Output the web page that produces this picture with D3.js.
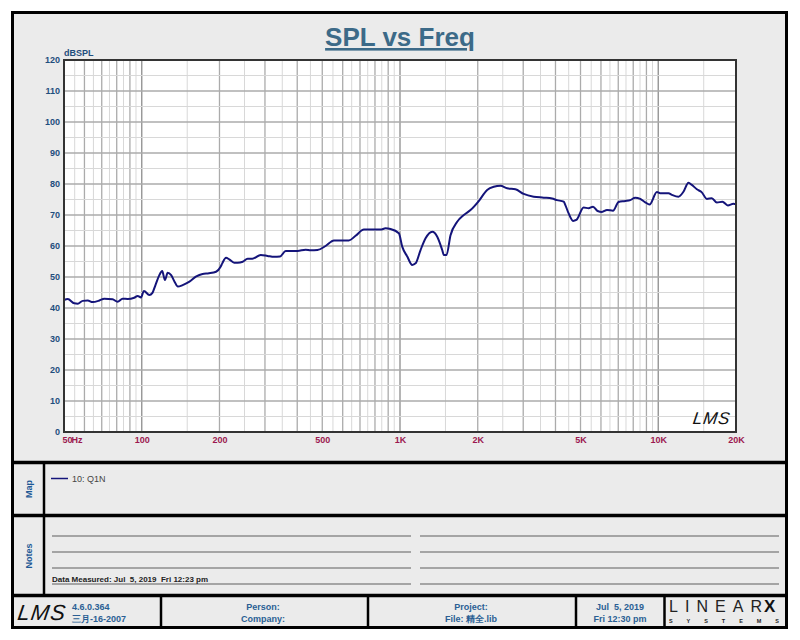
<!DOCTYPE html>
<html>
<head>
<meta charset="utf-8">
<script src="https://cdn.jsdelivr.net/npm/d3@7"></script>
<style>
  body { margin: 0; background: #fff; }
  text { font-family: "Liberation Sans", Arial, sans-serif; }
</style>
</head>
<body>
<div id="container"></div>
<script>
var freq = [50, 51.7, 54.8, 56.5, 59.1, 61.8, 64.5, 68.5, 71.6, 77.1,
  80.6, 84.3, 88.2, 93.5, 96.4, 99.3, 102, 107, 110, 113,
  117, 120, 123, 126, 130, 134, 138, 144, 153, 162,
  172, 182, 194, 202, 205, 212, 218, 228, 235, 246,
  257, 268, 289, 307, 325, 343, 361, 401, 431, 451,
  479, 515, 555, 634, 673, 725, 841, 879, 919, 990,
  1020, 1067, 1115, 1149, 1201, 1256, 1333, 1394, 1457, 1478,
  1514, 1569, 1665, 1766, 1875, 2018, 2175, 2307, 2449, 2599,
  2798, 3013, 3294, 3601, 3880, 4057, 4303, 4368, 4498, 4677,
  4817, 5140, 5375, 5590, 5824, 6056, 6331, 6680, 7020, 7451,
  7790, 8144, 8515, 8903, 9251, 9881, 10174, 10957, 11293, 11973,
  12518, 13091, 13494, 14108, 14750, 15422, 16124, 16857, 17721, 18595,
  19542, 20000];
var spl = [42.6, 42.9, 41.5, 41.4, 42.3, 42.4, 41.9, 42.4, 43.0, 42.8,
  42.0, 43.0, 42.9, 43.3, 43.9, 43.4, 45.5, 44.2, 44.9, 47.4,
  50.6, 51.9, 49.0, 51.4, 50.6, 48.5, 46.9, 47.4, 48.5, 50.1,
  51.0, 51.2, 51.7, 53.3, 54.4, 56.2, 55.7, 54.6, 54.6, 54.9,
  55.9, 55.9, 57.1, 56.8, 56.5, 56.6, 58.4, 58.4, 58.8, 58.6,
  58.7, 60.0, 61.8, 61.8, 63.3, 65.3, 65.3, 65.7, 65.5, 64.1,
  59.8, 56.6, 53.9, 54.4, 58.7, 62.5, 64.6, 63.0, 58.7, 57.1,
  57.1, 63.5, 67.8, 70.0, 71.6, 74.5, 78.1, 79.1, 79.4, 78.6,
  78.3, 76.8, 75.9, 75.6, 75.3, 74.8, 74.3, 73.2, 70.5, 68.1,
  68.4, 72.4, 72.2, 72.7, 71.3, 71.0, 71.6, 71.4, 74.2, 74.5,
  74.8, 75.6, 75.2, 74.1, 73.4, 77.4, 77.0, 77.0, 76.5, 75.9,
  77.5, 80.4, 79.7, 78.3, 77.3, 75.2, 75.4, 74.0, 74.3, 73.1,
  73.6, 73.5];

var xTickValues = [50, 100, 200, 500, 1000, 2000, 5000, 10000, 20000];
var xTickLabels = ["50", "100", "200", "500", "1K", "2K", "5K", "10K", "20K"];
var yTickValues = [0, 10, 20, 30, 40, 50, 60, 70, 80, 90, 100, 110, 120];
var legendLabels = ["10: Q1N"];

var W = 800, H = 640;
var plot = {left: 64, top: 60, right: 736, bottom: 432};

var svg = d3.select("#container")
  .append("svg")
    .attr("width", W)
    .attr("height", H);

// outer panel
svg.append("rect")
  .attr("x", 12.5).attr("y", 12.5)
  .attr("width", 774).attr("height", 615)
  .attr("fill", "#ebebeb")
  .attr("stroke", "#000")
  .attr("stroke-width", 3);

var x = d3.scaleLog()
  .domain([50, 20000])
  .range([plot.left, plot.right]);

var y = d3.scaleLinear()
  .domain([0, 120])
  .range([plot.bottom, plot.top]);

// plot background
svg.append("rect")
  .attr("x", plot.left).attr("y", plot.top)
  .attr("width", plot.right - plot.left)
  .attr("height", plot.bottom - plot.top)
  .attr("fill", "#fff");

// grid lines: half steps light, integer steps medium, decades darker
var grid = svg.append("g");
var vLines = [];
[10, 100, 1000, 10000].forEach(function (dec) {
  for (var n = 1; n < 10; n += 0.5) {
    var f = n * dec;
    if (f <= 50 || f >= 20000) continue;
    var kind = (n === 1) ? "dec" : (n % 1 === 0 ? "int" : "half");
    vLines.push({f: f, kind: kind});
  }
});
var vColor = {half: "#d8d8d8", int: "#ababab", dec: "#959595"};
var vWidth = {half: 1, int: 1.3, dec: 1.4};

vLines.filter(function (d) { return d.kind === "half"; })
  .concat(vLines.filter(function (d) { return d.kind !== "half"; }))
  .forEach(function (d) {
    grid.append("line")
      .attr("x1", x(d.f)).attr("x2", x(d.f))
      .attr("y1", plot.top).attr("y2", plot.bottom)
      .attr("stroke", vColor[d.kind])
      .attr("stroke-width", vWidth[d.kind]);
  });

d3.range(5, 120, 5).forEach(function (v) {
  grid.append("line")
    .attr("x1", plot.left).attr("x2", plot.right)
    .attr("y1", y(v)).attr("y2", y(v))
    .attr("stroke", v % 10 === 0 ? "#ababab" : "#d8d8d8")
    .attr("stroke-width", v % 10 === 0 ? 1.3 : 1);
});

// curve
var line = d3.line()
  .x(function (d) { return x(d[0]); })
  .y(function (d) { return y(d[1]); })
  .curve(d3.curveMonotoneX);

svg.append("path")
  .datum(d3.zip(freq, spl))
  .attr("d", line)
  .attr("fill", "none")
  .attr("stroke", "#14147a")
  .attr("stroke-width", 2);

// plot frame
svg.append("rect")
  .attr("x", plot.left).attr("y", plot.top)
  .attr("width", plot.right - plot.left)
  .attr("height", plot.bottom - plot.top)
  .attr("fill", "none")
  .attr("stroke", "#333")
  .attr("stroke-width", 2);

// axes
var xAxis = svg.append("g")
  .attr("transform", "translate(0," + plot.bottom + ")")
  .call(d3.axisBottom(x)
    .tickValues(xTickValues)
    .tickFormat(function (d, i) { return xTickLabels[i]; })
    .tickSize(0)
    .tickPadding(5));
xAxis.select(".domain").remove();
xAxis.selectAll("text")
  .attr("fill", "#9c1850")
  .attr("font-size", 9)
  .attr("font-weight", "bold")
  .attr("font-family", "Liberation Sans, Arial, sans-serif");
xAxis.selectAll(".tick").filter(function (d) { return d === 50; })
  .select("text").attr("text-anchor", "start").attr("x", -2);
xAxis.append("text")
  .attr("x", 77).attr("y", 5).attr("dy", "0.71em")
  .attr("fill", "#9c1850")
  .attr("font-size", 9)
  .attr("font-weight", "bold")
  .text("Hz");

var yAxis = svg.append("g")
  .attr("transform", "translate(" + plot.left + ",0)")
  .call(d3.axisLeft(y)
    .tickValues(yTickValues)
    .tickSize(0)
    .tickPadding(4));
yAxis.select(".domain").remove();
yAxis.selectAll("text")
  .attr("fill", "#1f4e7d")
  .attr("font-size", 9)
  .attr("font-weight", "bold")
  .attr("font-family", "Liberation Sans, Arial, sans-serif");

svg.append("text")
  .attr("x", 64).attr("y", 56)
  .attr("fill", "#1f4e7d")
  .attr("font-size", 9)
  .attr("font-weight", "bold")
  .text("dBSPL");

// title
svg.append("text")
  .attr("x", 400).attr("y", 46)
  .attr("text-anchor", "middle")
  .attr("fill", "#3c6a88")
  .attr("font-size", 26)
  .attr("font-weight", "bold")
  .attr("text-decoration", "underline")
  .text("SPL vs Freq");

// LMS watermark
function lmsLogo(g, cx, cy, size) {
  g.append("text")
    .attr("x", cx).attr("y", cy)
    .attr("text-anchor", "middle")
    .attr("transform", "skewX(-8)")
    .attr("font-family", "DejaVu Sans, sans-serif")
    .attr("font-style", "italic")
    .attr("font-weight", "normal")
    .attr("font-size", size)
    .attr("letter-spacing", size * 0.05)
    .attr("fill", "#111")
    .text("LMS");
}
lmsLogo(svg, 711 + 424 * Math.tan(8 * Math.PI / 180), 424, 17);

// section dividers
function hline(yy, x1, x2, w, c) {
  svg.append("line")
    .attr("x1", x1).attr("x2", x2)
    .attr("y1", yy).attr("y2", yy)
    .attr("stroke", c).attr("stroke-width", w);
}
function vline(xx, y1, y2, w, c) {
  svg.append("line")
    .attr("x1", xx).attr("x2", xx)
    .attr("y1", y1).attr("y2", y2)
    .attr("stroke", c).attr("stroke-width", w);
}
hline(462.5, 12, 788, 3.5, "#000");
hline(515.5, 12, 788, 3.5, "#000");
hline(595.5, 12, 788, 3.5, "#000");
vline(44, 462, 596, 2.5, "#000");

// side labels
function sideLabel(txt, cx, cy) {
  svg.append("text")
    .attr("transform", "translate(" + cx + "," + cy + ") rotate(-90)")
    .attr("text-anchor", "middle")
    .attr("fill", "#1f5a96")
    .attr("font-size", 9)
    .attr("font-weight", "bold")
    .text(txt);
}
sideLabel("Map", 31.5, 489);
sideLabel("Notes", 31.5, 556);

// legend
legendLabels.forEach(function (lab, i) {
  svg.append("line")
    .attr("x1", 51).attr("x2", 68)
    .attr("y1", 478.5 + i * 12).attr("y2", 478.5 + i * 12)
    .attr("stroke", "#14147a").attr("stroke-width", 1.5);
  svg.append("text")
    .attr("x", 72).attr("y", 481.5 + i * 12)
    .attr("fill", "#444")
    .attr("font-size", 9)
    .text(lab);
});

// notes lines
[536, 552, 568, 584].forEach(function (yy) {
  hline(yy, 52, 411, 1.1, "#5e5e5e");
  hline(yy, 420, 779, 1.1, "#5e5e5e");
});
svg.append("text")
  .attr("x", 52).attr("y", 582)
  .attr("fill", "#222")
  .attr("font-size", 8)
  .attr("font-weight", "bold")
  .attr("xml:space", "preserve")
  .text("Data Measured: Jul  5, 2019  Fri 12:23 pm");

// footer
[161, 368, 576, 664.5].forEach(function (xx) { vline(xx, 596, 627, 2.5, "#000"); });

lmsLogo(svg, 41 + 620 * Math.tan(8 * Math.PI / 180), 620, 22);

function footText(txt, xx, yy, anchor) {
  svg.append("text")
    .attr("x", xx).attr("y", yy)
    .attr("text-anchor", anchor || "middle")
    .attr("fill", "#2a5f94")
    .attr("font-size", 9)
    .attr("font-weight", "bold")
    .attr("xml:space", "preserve")
    .text(txt);
}
footText("4.6.0.364", 72, 610, "start");
footText("三月-16-2007", 72, 622, "start");
footText("Person:", 263, 610);
footText("Company:", 263, 622);
footText("Project:", 471, 610);
footText("File: 精全.lib", 471, 622);
footText("Jul  5, 2019", 620, 610);
footText("Fri 12:30 pm", 620, 622);

// LINEAR X logo
svg.append("text")
  .attr("x", 669).attr("y", 612)
  .attr("font-family", "DejaVu Serif, Liberation Serif, serif")
  .attr("font-size", 16)
  .attr("font-weight", "normal")
  .attr("fill", "#222")
  .attr("textLength", 93)
  .attr("lengthAdjust", "spacing")
  .text("LINEAR");
svg.append("text")
  .attr("x", 764).attr("y", 612)
  .attr("font-family", "DejaVu Sans, sans-serif")
  .attr("font-size", 17)
  .attr("font-weight", "bold")
  .attr("fill", "#111")
  .text("X");
svg.append("text")
  .attr("x", 669).attr("y", 622.5)
  .attr("font-size", 5.5)
  .attr("font-weight", "bold")
  .attr("fill", "#222")
  .attr("textLength", 110)
  .attr("lengthAdjust", "spacing")
  .text("SYSTEMS");
</script>
</body>
</html>
